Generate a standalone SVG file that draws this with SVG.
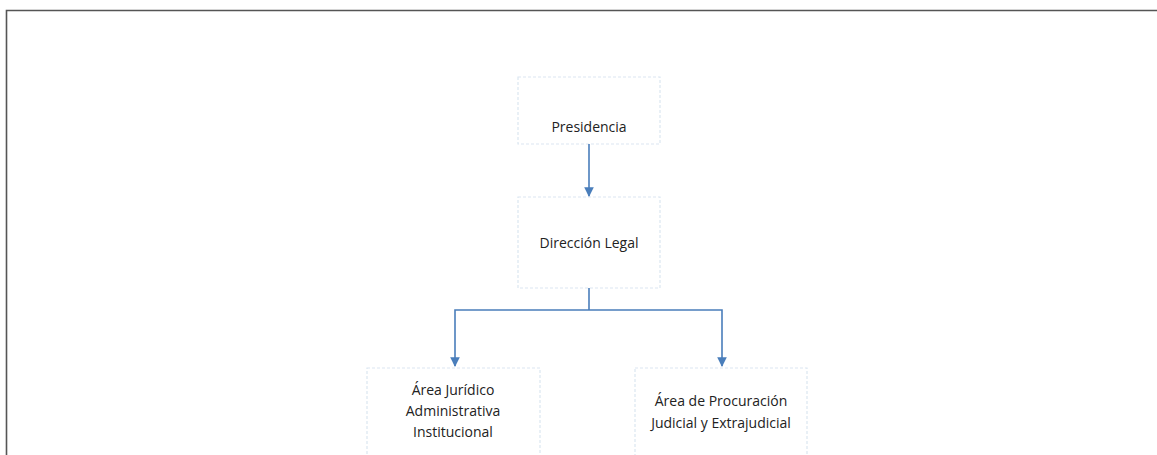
<svg xmlns="http://www.w3.org/2000/svg" width="1157" height="455" viewBox="0 0 1157 455">
  <style>
    .box { fill: #ffffff; stroke: #dbe6f1; stroke-width: 1.2; stroke-dasharray: 3 2; }
    .lbl { font-family: "Open Sans", "Liberation Sans", sans-serif; font-size: 14px; fill: #222222; text-anchor: middle; }
    .conn { fill: none; stroke: #4a7ebb; stroke-width: 1.6; }
  </style>
  <defs>
    <marker id="arrow" viewBox="0 0 10 10" refX="9" refY="5" markerWidth="6" markerHeight="6" orient="auto" markerUnits="strokeWidth">
      <path d="M0,0 L10,5 L0,10 z" fill="#4a7ebb"/>
    </marker>
  </defs>

  <rect width="1157" height="455" fill="#ffffff"/>

  <!-- page frame -->
  <g id="frame" fill="none" stroke="#555555" stroke-width="1.6">
    <path d="M6.5,455 L6.5,10.5 L1157,10.5"/>
  </g>

  <g id="node-presidencia">
    <rect class="box" x="518" y="77" width="142" height="67"/>
    <text class="lbl" x="589" y="132">Presidencia</text>
  </g>

  <g id="node-direccion-legal">
    <rect class="box" x="518" y="197" width="142" height="91"/>
    <text class="lbl" x="589" y="248">Dirección Legal</text>
  </g>

  <g id="node-area-juridico">
    <rect class="box" x="367" y="368" width="173" height="90"/>
    <text class="lbl" x="453" y="395">Área Jurídico</text>
    <text class="lbl" x="453" y="416">Administrativa</text>
    <text class="lbl" x="453" y="437">Institucional</text>
  </g>

  <g id="node-area-procuracion">
    <rect class="box" x="635" y="368" width="172" height="90"/>
    <text class="lbl" x="721" y="406">Área de Procuración</text>
    <text class="lbl" x="721" y="428">Judicial y Extrajudicial</text>
  </g>

  <g id="connectors">
    <path class="conn" d="M589,144 L589,196" marker-end="url(#arrow)"/>
    <path class="conn" d="M589,288 L589,310"/>
    <path class="conn" d="M589,310 L455,310 L455,366" marker-end="url(#arrow)"/>
    <path class="conn" d="M589,310 L722,310 L722,366" marker-end="url(#arrow)"/>
  </g>
</svg>
